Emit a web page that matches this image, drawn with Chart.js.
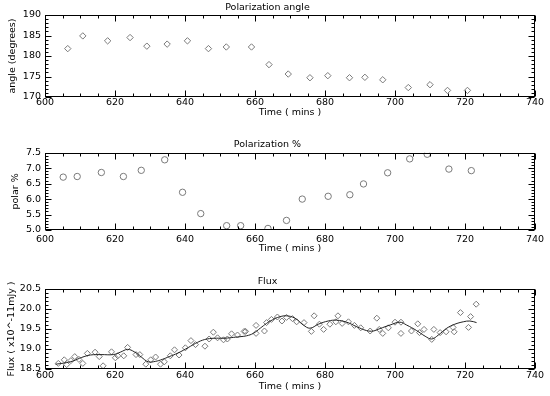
<!DOCTYPE html>
<html><head><meta charset="utf-8">
<script src="https://cdn.jsdelivr.net/npm/chart.js@4.4.1/dist/chart.umd.min.js"></script>
<style>
html,body{margin:0;padding:0;background:#fff;}
#wrap{position:relative;width:550px;height:396px;background:#fff;overflow:hidden;}
canvas{position:absolute;left:0;}
</style></head><body>
<div id="wrap">
<canvas id="c1" width="550" height="130" style="top:0px"></canvas>
<canvas id="c2" width="550" height="130" style="top:130px"></canvas>
<canvas id="c3" width="550" height="136" style="top:260px"></canvas>
</div>
<script>
// ---- tick labels ----
const timeTicks = [600, 620, 640, 660, 680, 700, 720, 740];
const angleTicks = [170, 175, 180, 185, 190];
const polarTicks = [5.0, 5.5, 6.0, 6.5, 7.0, 7.5];
const fluxTicks = [18.5, 19.0, 19.5, 20.0, 20.5];

// ---- Polarization angle ----
const angleTime = [606.5, 610.8, 617.9, 624.3, 629.1, 634.9, 640.7, 646.7, 651.8, 659.0, 664.0,
  669.5, 675.7, 680.8, 687.0, 691.4, 696.5, 703.8, 710.0, 715.0, 720.7];
const angleValues = [181.8, 184.9, 183.7, 184.5, 182.4, 182.9, 183.7, 181.8, 182.2, 182.2, 177.9,
  175.6, 174.7, 175.2, 174.7, 174.8, 174.2, 172.3, 173.0, 171.6, 171.6];

// ---- Polarization % ----
const polarTime = [605.2, 609.2, 616.1, 622.4, 627.5, 634.2, 639.3, 644.5, 651.9, 655.9, 663.7,
  669.0, 673.5, 680.9, 687.1, 691.0, 697.9, 704.2, 709.2, 715.4, 721.8];
const polarValues = [6.71, 6.73, 6.86, 6.73, 6.93, 7.27, 6.22, 5.53, 5.14, 5.14, 5.05,
  5.31, 6.00, 6.09, 6.14, 6.49, 6.85, 7.30, 7.45, 6.97, 6.92];

// ---- Flux ----
const fluxTime = [603.8, 605.5, 606.2, 607.4, 608.5, 609.7, 610.8, 612.1, 614.3, 615.5, 616.6,
  619.0, 620.1, 620.8, 622.5, 623.6, 626.0, 627.1, 628.8, 630.2, 631.6, 633.0, 634.1, 635.8,
  637.0, 638.3, 640.1, 641.7, 643.0, 645.7, 646.9, 648.1, 649.3, 651.0, 652.1, 653.3, 655.0,
  656.9, 657.3, 660.3, 660.3, 662.7, 663.3, 664.7, 666.4, 667.7, 669.0, 670.7, 671.9, 674.0,
  676.1, 676.9, 678.4, 679.6, 681.4, 683.1, 683.7, 684.9, 686.7, 688.4, 690.2, 692.9, 694.8,
  695.5, 696.5, 698.1, 700.0, 701.7, 701.7, 704.7, 706.5, 707.0, 708.3, 710.5, 711.1, 712.9,
  714.6, 716.6, 716.9, 718.7, 721.0, 721.6, 723.2];
const fluxValues = [18.64, 18.73, 18.61, 18.71, 18.81, 18.74, 18.64, 18.89, 18.92, 18.81, 18.58,
  18.93, 18.78, 18.83, 18.83, 19.04, 18.86, 18.86, 18.62, 18.73, 18.80, 18.62, 18.68, 18.83,
  18.98, 18.85, 19.03, 19.21, 19.11, 19.07, 19.25, 19.42, 19.28, 19.23, 19.25, 19.38, 19.35,
  19.44, 19.44, 19.39, 19.59, 19.45, 19.66, 19.74, 19.80, 19.70, 19.79, 19.76, 19.68, 19.66,
  19.44, 19.83, 19.62, 19.49, 19.62, 19.68, 19.83, 19.64, 19.68, 19.59, 19.53, 19.45, 19.77,
  19.49, 19.39, 19.53, 19.67, 19.67, 19.39, 19.45, 19.63, 19.41, 19.49, 19.24, 19.49, 19.41,
  19.43, 19.54, 19.43, 19.91, 19.54, 19.81, 20.12];

// ---- Flux smooth fit ----
const fitTime = [603.0, 605.5, 608.0, 610.5, 613.0, 616.0, 619.5, 621.5, 623.6, 625.5, 627.5,
  629.5, 631.5, 633.5, 635.5, 638.0, 641.0, 643.0, 645.0, 647.0, 649.0, 651.5, 653.8, 656.0,
  657.6, 659.5, 661.5, 663.3, 665.0, 666.5, 668.9, 671.4, 673.8, 675.7, 678.1, 680.9, 683.3,
  686.2, 689.0, 691.9, 693.8, 695.7, 698.6, 701.4, 703.3, 706.2, 708.6, 710.5, 712.4, 714.8,
  717.1, 719.5, 721.4, 723.3];
const fitValues = [18.62, 18.65, 18.70, 18.79, 18.85, 18.86, 18.86, 18.92, 18.99, 18.93, 18.80,
  18.68, 18.69, 18.74, 18.81, 18.90, 19.04, 19.14, 19.22, 19.26, 19.27, 19.27, 19.29, 19.31,
  19.33, 19.39, 19.52, 19.64, 19.73, 19.79, 19.83, 19.77, 19.60, 19.52, 19.62, 19.70, 19.72,
  19.67, 19.56, 19.46, 19.45, 19.51, 19.60, 19.67, 19.60, 19.46, 19.32, 19.25, 19.35, 19.52,
  19.62, 19.68, 19.70, 19.66];

const pts = (xs, ys) => xs.map((x, i) => ({x: x, y: ys[i]}));

Chart.defaults.font.family = "'DejaVu Sans', sans-serif";
Chart.defaults.font.size = 9.5;
Chart.defaults.color = '#000';

const frameTicks = {
  id: 'frameTicks',
  afterDraw(chart, args, opts) {
    const {ctx, chartArea: a, scales: {x, y}} = chart;
    ctx.save();
    ctx.strokeStyle = '#000';
    ctx.lineWidth = 1;
    const L = Math.round(a.left) + 0.5, R = Math.round(a.right) - 0.5;
    const T = Math.round(a.top) + 0.5, B = Math.round(a.bottom) - 0.5;
    ctx.strokeRect(L, T, R - L, B - T);
    ctx.beginPath();
    const nx = Math.round((x.max - x.min) / opts.xMinor);
    for (let i = 0; i <= nx; i++) {
      const v = x.min + i * opts.xMinor;
      const major = (i % Math.round(opts.xMajor / opts.xMinor)) === 0;
      const len = major ? 6 : 3;
      const px = Math.round(x.getPixelForValue(v)) + 0.5;
      ctx.moveTo(px, B); ctx.lineTo(px, B - len);
      ctx.moveTo(px, T); ctx.lineTo(px, T + len);
    }
    const ny = Math.round((y.max - y.min) / opts.yMinor);
    for (let i = 0; i <= ny; i++) {
      const v = y.min + i * opts.yMinor;
      const major = (i % Math.round(opts.yMajor / opts.yMinor)) === 0;
      const len = major ? 6 : 3;
      const py = Math.round(y.getPixelForValue(v)) + 0.5;
      ctx.moveTo(L, py); ctx.lineTo(L + len, py);
      ctx.moveTo(R, py); ctx.lineTo(R - len, py);
    }
    ctx.stroke();
    ctx.restore();
  }
};

function makeOptions(p) {
  return {
    responsive: false,
    animation: false,
    events: [],
    layout: {padding: {left: 0, right: 15, top: 0, bottom: p.padBottom}},
    plugins: {
      legend: {display: false},
      tooltip: {enabled: false},
      title: {display: true, text: p.title, font: {size: 9.5, weight: 'normal'}, color: '#000',
        padding: {top: p.titleTop, bottom: p.titleBottom}},
      frameTicks: {xMinor: 5, xMajor: 20, yMinor: p.yMinor, yMajor: p.yMajor}
    },
    scales: {
      x: {
        type: 'linear', min: 600, max: 740,
        grid: {display: false, drawTicks: false},
        border: {display: false},
        afterBuildTicks: s => { s.ticks = timeTicks.map(v => ({value: v})); },
        afterFit: s => { s.height = p.xHeight; },
        ticks: {autoSkip: false, maxRotation: 0, padding: p.xTickPad, color: '#000', font: {size: 9.5},
          callback: v => String(v)},
        title: {display: true, text: 'Time ( mins )', color: '#000', font: {size: 9.5},
          padding: {top: 0, bottom: 0}}
      },
      y: {
        type: 'linear', min: p.yMin, max: p.yMax,
        grid: {display: false, drawTicks: false},
        border: {display: false},
        afterBuildTicks: s => { s.ticks = p.yTicks.map(v => ({value: v})); },
        afterFit: s => { s.width = 45; },
        ticks: {autoSkip: false, padding: 4, color: '#000', font: {size: 9.5},
          callback: v => p.fmt(v)},
        title: {display: true, text: p.yTitle, color: '#000', font: {size: 9.5},
          padding: {top: p.yTitlePad, bottom: 0}}
      }
    }
  };
}

new Chart(document.getElementById('c1'), {
  type: 'scatter',
  data: {datasets: [{
    data: pts(angleTime, angleValues),
    pointStyle: 'rectRot', pointRadius: 3.2, borderWidth: 1,
    borderColor: '#7a7a7a', backgroundColor: 'rgba(0,0,0,0)'
  }]},
  options: makeOptions({title: 'Polarization angle', titleTop: 2.3, titleBottom: 1.3,
    padBottom: 11.3, xHeight: 21.7, xTickPad: 0, yMin: 170, yMax: 190, yTicks: angleTicks,
    yMinor: 1, yMajor: 5, fmt: v => String(v), yTitle: 'angle (degrees)', yTitlePad: 7.3}),
  plugins: [frameTicks]
});

new Chart(document.getElementById('c2'), {
  type: 'scatter',
  data: {datasets: [{
    data: pts(polarTime, polarValues),
    pointStyle: 'circle', pointRadius: 3.2, borderWidth: 1,
    borderColor: '#7a7a7a', backgroundColor: 'rgba(0,0,0,0)'
  }]},
  options: makeOptions({title: 'Polarization %', titleTop: 9.3, titleBottom: 2.0,
    padBottom: 5.3, xHeight: 24.7, xTickPad: 4.3, yMin: 5.0, yMax: 7.5, yTicks: polarTicks,
    yMinor: 0.1, yMajor: 0.5, fmt: v => v.toFixed(1), yTitle: 'polar %', yTitlePad: 10.3}),
  plugins: [frameTicks]
});

new Chart(document.getElementById('c3'), {
  type: 'scatter',
  data: {datasets: [
    {
      data: pts(fitTime, fitValues), showLine: true, tension: 0.4,
      borderColor: '#222', borderWidth: 1, pointRadius: 0, fill: false
    },
    {
      data: pts(fluxTime, fluxValues),
      pointStyle: 'rectRot', pointRadius: 3, borderWidth: 1,
      borderColor: '#7a7a7a', backgroundColor: 'rgba(0,0,0,0)'
    }
  ]},
  options: makeOptions({title: 'Flux', titleTop: 16.3, titleBottom: 1.3,
    padBottom: 3.3, xHeight: 23.7, xTickPad: 1.3, yMin: 18.5, yMax: 20.5, yTicks: fluxTicks,
    yMinor: 0.1, yMajor: 0.5, fmt: v => v.toFixed(1), yTitle: 'Flux ( x10^-11mJy )', yTitlePad: 5.8}),
  plugins: [frameTicks]
});
</script>
</body></html>
